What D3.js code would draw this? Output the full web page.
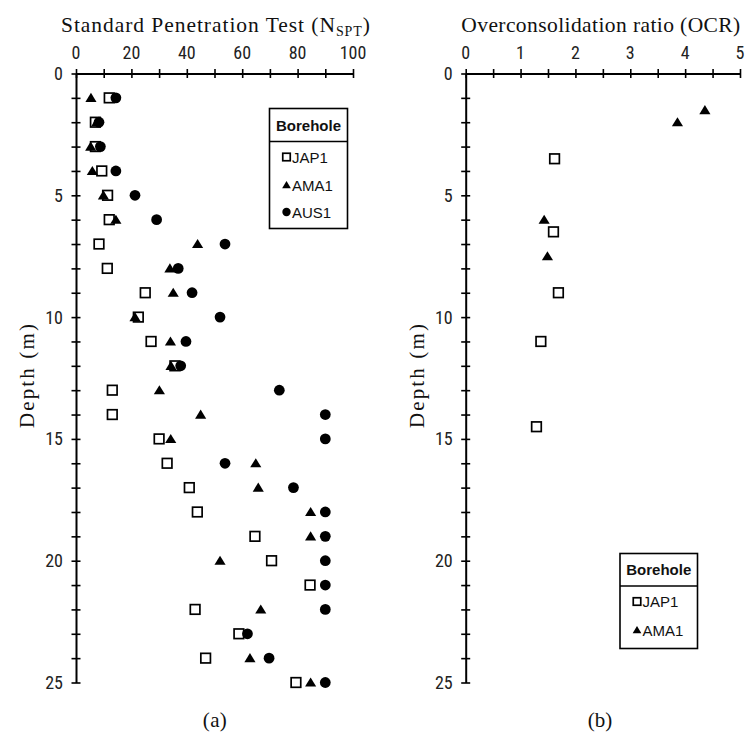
<!DOCTYPE html>
<html>
<head>
<meta charset="utf-8">
<script src="https://cdn.jsdelivr.net/npm/d3@7/dist/d3.min.js"></script>
<style>
  html, body { margin: 0; padding: 0; background: #fff; }
  svg { display: block; }
  .tick-label { font-family: "Liberation Sans Narrow", "Arial Narrow", "Roboto Condensed", sans-serif; font-size: 18px; fill: #222; }
  .serif { font-family: "Liberation Serif", "Times New Roman", serif; fill: #111; }
  .leg { font-family: "Liberation Sans", Arial, sans-serif; fill: #111; }
  .leg-head { font-family: "Liberation Sans Narrow", "Arial Narrow", sans-serif; font-weight: bold; fill: #111; }
</style>
</head>
<body>
<svg id="chart" width="750" height="736"></svg>
<script>
// Depths (m) at which SPT blow counts were recorded
const sptDepth = [1, 2, 3, 4, 5, 6, 7, 8, 9, 10, 11, 12, 13, 14, 15, 16, 17, 18, 19, 20, 21, 22, 23, 24, 25];
// N_SPT per borehole (null where no reading)
const sptJAP1 = [12, 7, 7, 9.3, 11.4, 12, 8.3, 11.3, 25, 22.5, 27.1, 35.7, 13.1, 13.1, 30, 32.9, 40.9, 43.8, 64.6, 70.6, 84.5, 43, 58.8, 46.8, 79.4];
const sptAMA1 = [5.4, 7.5, 5.3, 5.9, 9.9, 14.4, 43.9, 33.9, 35.1, 21.3, 34.1, 34.3, 30.1, 45, 34.2, 64.9, 65.8, 84.7, 84.7, 52, null, 66.7, null, 62.8, 84.7];
const sptAUS1 = [14.4, 8.3, 8.8, 14.4, 21.3, 29.1, 53.8, 36.9, 41.9, 52, 39.7, 37.8, 73.4, 90, 90, 53.8, 78.5, 90, 90, 90, 90, 90, 61.9, 69.7, 90];

// Overconsolidation ratio samples
const ocrJAP1Depth = [3.5, 6.5, 9, 11, 14.5];
const ocrJAP1 = [1.62, 1.6, 1.69, 1.37, 1.29];
const ocrAMA1Depth = [1.5, 2, 6, 7.5];
const ocrAMA1 = [4.36, 3.86, 1.43, 1.49];

// Tick values
const sptTicks = [0, 20, 40, 60, 80, 100];
const ocrTicks = [0, 1, 2, 3, 4, 5];
const depthTicks = [0, 5, 10, 15, 20, 25];

const svg = d3.select("#chart");
const plotTop = 73.5, plotBottom = 682.5;

const panels = [
  {
    x0: 76, x1: 353, domain: [0, 100], minorStep: 10, ticks: sptTicks,
    title: "Standard Penetration Test (N", sub: "SPT", titleX: 216, titleW: 309,
    ylabelX: 34, tag: "(a)",
    series: [
      { name: "JAP1", shape: "square", depth: sptDepth, values: sptJAP1 },
      { name: "AMA1", shape: "triangle", depth: sptDepth, values: sptAMA1 },
      { name: "AUS1", shape: "circle", depth: sptDepth, values: sptAUS1 }
    ],
    legend: { x: 269.5, y: 108.5, w: 78, h: 120, head: 33, rows: [157, 185, 212] }
  },
  {
    x0: 465.7, x1: 740, domain: [0, 5], minorStep: 0.5, ticks: ocrTicks,
    title: "Overconsolidation ratio (OCR)", sub: null, titleX: 601, titleW: 279,
    ylabelX: 424, tag: "(b)",
    series: [
      { name: "JAP1", shape: "square", depth: ocrJAP1Depth, values: ocrJAP1 },
      { name: "AMA1", shape: "triangle", depth: ocrAMA1Depth, values: ocrAMA1 }
    ],
    legend: { x: 620, y: 553.5, w: 77.5, h: 95, head: 32.5, rows: [601.5, 630] }
  }
];

// Spread a serif label's letters so it spans the given width
function fitWidth(sel, width) {
  const node = sel.node();
  const n = node.textContent.length;
  const len = node.getComputedTextLength();
  if (n > 1 && len < width) sel.attr("letter-spacing", (width - len) / (n - 1));
}

function drawMarker(g, shape, cx, cy, s) {
  if (shape === "square") {
    g.append("rect").attr("x", cx - s / 2).attr("y", cy - s / 2)
      .attr("width", s).attr("height", s)
      .attr("fill", "#fff").attr("stroke", "#000").attr("stroke-width", 1.7);
  } else if (shape === "triangle") {
    const h = s * 0.95;
    g.append("path")
      .attr("d", `M${cx},${cy - h * 0.55}L${cx + s * 0.58},${cy + h * 0.45}L${cx - s * 0.58},${cy + h * 0.45}Z`)
      .attr("fill", "#000");
  } else {
    g.append("circle").attr("cx", cx).attr("cy", cy).attr("r", s * 0.56).attr("fill", "#000");
  }
}

panels.forEach(p => {
  const x = d3.scaleLinear().domain(p.domain).range([p.x0, p.x1]);
  const y = d3.scaleLinear().domain([0, 25]).range([plotTop, plotBottom]);
  const g = svg.append("g");

  // x axis along the top, ticks straddling the line
  const minorX = d3.range(p.domain[0], p.domain[1] + p.minorStep / 2, p.minorStep);
  const xAxis = d3.axisTop(x).tickValues(minorX).tickSize(0).tickFormat("");
  const gx = g.append("g").attr("transform", `translate(0,${plotTop})`).call(xAxis);
  gx.select(".domain").attr("stroke", "#000").attr("stroke-width", 2);
  gx.selectAll(".tick line").attr("y1", -4.5).attr("y2", 4.5).attr("stroke", "#000").attr("stroke-width", 1.6);
  g.selectAll(".xlab").data(p.ticks).join("text")
    .attr("class", "tick-label").attr("text-anchor", "middle")
    .attr("x", d => x(d)).attr("y", 59).text(d => d);

  // depth axis on the left
  const minorY = d3.range(0, 26, 1);
  const yAxis = d3.axisLeft(y).tickValues(minorY).tickSize(0).tickFormat("");
  const gy = g.append("g").attr("transform", `translate(${p.x0},0)`).call(yAxis);
  gy.select(".domain").attr("stroke", "#000").attr("stroke-width", 2);
  gy.selectAll(".tick line").attr("x1", -4.5).attr("x2", 4.5).attr("stroke", "#000").attr("stroke-width", 1.6);
  g.selectAll(".ylab").data(depthTicks).join("text")
    .attr("class", "tick-label").attr("text-anchor", "end")
    .attr("x", p.x0 - 13).attr("y", d => y(d) + 6.5).text(d => d);

  // titles
  const t = g.append("text").attr("class", "serif").attr("font-size", 21.5)
    .attr("text-anchor", "middle").attr("x", p.titleX).attr("y", 32);
  t.append("tspan").text(p.title);
  if (p.sub) {
    t.append("tspan").attr("font-size", 14).attr("dy", 4).text(p.sub);
    t.append("tspan").attr("dy", -4).text(")");
  }
  fitWidth(t, p.titleW);

  const yl = g.append("text").attr("class", "serif").attr("font-size", 21)
    .attr("text-anchor", "middle")
    .attr("transform", `translate(${p.ylabelX},${(plotTop + plotBottom) / 2 - 3}) rotate(-90)`)
    .text("Depth (m)");
  fitWidth(yl, 104);

  const tag = g.append("text").attr("class", "serif").attr("font-size", 21)
    .attr("text-anchor", "middle").attr("x", p.titleX - 1).attr("y", 727).text(p.tag);
  fitWidth(tag, 24);

  // data markers
  p.series.forEach(s => {
    const mg = g.append("g");
    s.values.forEach((v, i) => {
      if (v == null) return;
      drawMarker(mg, s.shape, x(v), y(s.depth[i]), 9.6);
    });
  });

  // legend box
  const L = p.legend;
  const lg = g.append("g");
  lg.append("rect").attr("x", L.x).attr("y", L.y).attr("width", L.w).attr("height", L.h)
    .attr("fill", "#fff").attr("stroke", "#000").attr("stroke-width", 1.6);
  lg.append("line").attr("x1", L.x).attr("x2", L.x + L.w)
    .attr("y1", L.y + L.head).attr("y2", L.y + L.head)
    .attr("stroke", "#000").attr("stroke-width", 1.6);
  lg.append("text").attr("class", "leg-head").attr("font-size", 15)
    .attr("text-anchor", "middle").attr("x", L.x + L.w / 2).attr("y", L.y + L.head / 2 + 5.5)
    .text("Borehole");
  p.series.forEach((s, i) => {
    const cy = L.rows[i];
    drawMarker(lg, s.shape, L.x + 17, cy, 7.5);
    lg.append("text").attr("class", "leg").attr("font-size", 15)
      .attr("x", L.x + 22.5).attr("y", cy + 5.5).text(s.name);
  });
});
</script>
</body>
</html>
